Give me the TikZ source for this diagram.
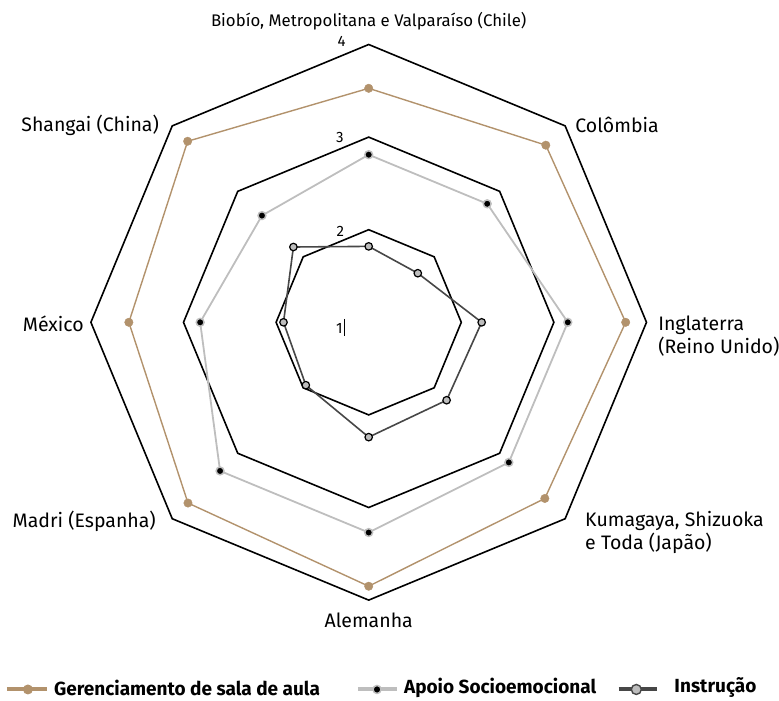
\documentclass[tikz,border=0pt]{standalone}
\usepackage{fontspec}
\setmainfont{Fira Sans}
\definecolor{gercor}{HTML}{B2926C}
\definecolor{apoiocor}{HTML}{BEBEBE}
\definecolor{instcor}{HTML}{474747}
\definecolor{instfill}{HTML}{BDBDBD}
\tikzset{
  nivel/.style={draw=black, line width=1.6pt},
  gerline/.style={draw=gercor, line width=1.4pt, mark=*, mark size=1.3pt,
    mark options={fill=gercor, draw=gercor, line width=0.4pt}},
  apoioline/.style={draw=apoiocor, line width=1.8pt, mark=*, mark size=1.2pt,
    mark options={fill=black, draw=apoiocor, line width=1.5pt}},
  instline/.style={draw=instcor, line width=1.6pt, mark=*, mark size=1.15pt,
    mark options={fill=instfill, draw=black, line width=1.2pt}},
  rotulo/.style={inner sep=0pt, font=\fontsize{19.5}{23}\selectfont},
  eixo/.style={inner sep=0pt, font=\fontsize{15}{17}\selectfont},
  leyenda/.style={inner sep=0pt, anchor=west, font=\fontsize{19}{21}\selectfont\bfseries},
}
\begin{document}
\begin{tikzpicture}[scale=3.255]
    % Marco de la figura
    \useasboundingbox (-3.9816,-4.0788) rectangle (4.4309,3.4806);

    % Octogonos de los niveles 4, 3 y 2
    \draw[nivel] (90:3) -- (45:3) -- (0:3) -- (-45:3) -- (-90:3) -- (-135:3) -- (180:3) -- (135:3) -- cycle;
    \draw[nivel] (90:2) -- (45:2) -- (0:2) -- (-45:2) -- (-90:2) -- (-135:2) -- (180:2) -- (135:2) -- cycle;
    \draw[nivel] (90:1) -- (45:1) -- (0:1) -- (-45:1) -- (-90:1) -- (-135:1) -- (180:1) -- (135:1) -- cycle;

    % Etiquetas de los niveles
    \node[eixo] (n4) at (-0.293,3.030) {4};
    \node[eixo] (n3) at (-0.31,1.998) {3};
    \node[eixo] (n2) at (-0.307,0.986) {2};
    \node[eixo] (n1) at (-0.317,-0.065) {1};
    \draw[line width=0.9pt] (-0.263,0.036) -- (-0.263,-0.148);

    % Serie: Gerenciamento de sala de aula
    \draw[gerline] plot coordinates {(90:2.527) (45:2.705) (0:2.775) (-45:2.69) (-90:2.85) (-135:2.76) (180:2.59) (135:2.765)} -- cycle;

    % Serie: Apoio Socioemocional
    \draw[apoioline] plot coordinates {(90:1.81) (45:1.81) (0:2.15) (-45:2.14) (-90:2.27) (-135:2.27) (180:1.82) (135:1.63)} -- cycle;

    % Serie: Instrucao
    \draw[instline] plot coordinates {(90:0.82) (45:0.75) (0:1.22) (-45:1.19) (-90:1.24) (-135:0.96) (180:0.92) (135:1.15)} -- cycle;

    % Nombres de las regiones
    \node[rotulo, font=\fontsize{16.8}{19}\selectfont] (chile) at (0,3.255) {Biobío, Metropolitana e Valparaíso (Chile)};
    \node[rotulo, anchor=west] (colombia) at (2.23,2.13) {Colômbia};
    \node[rotulo, anchor=west, align=left] (inglaterra) at (3.125,-0.153) {Inglaterra\\(Reino Unido)};
    \node[rotulo, anchor=west, align=left] (japao) at (2.336,-2.266) {Kumagaya, Shizuoka\\e Toda (Japão)};
    \node[rotulo] (alemanha) at (0,-3.215) {Alemanha};
    \node[rotulo, anchor=east] (madri) at (-2.297,-2.146) {Madri (Espanha)};
    \node[rotulo, anchor=east] (mexico) at (-3.075,-0.018) {México};
    \node[rotulo, anchor=east] (shangai) at (-2.264,2.13) {Shangai (China)};

    % Leyenda
    \draw[gercor, line width=4pt] (-3.906,-3.965) -- (-3.474,-3.965);
    \node[circle, fill=gercor, inner sep=0pt, minimum size=10pt] (lger) at (-3.68,-3.965) {};
    \node[leyenda] (tger) at (-3.40,-3.945) {Gerenciamento de sala de aula};

    \draw[apoiocor, line width=4pt] (-0.116,-3.965) -- (0.305,-3.965);
    \node[circle, fill=black, draw=apoiocor, line width=1.5pt, inner sep=0pt, minimum size=8pt] (lapoio) at (0.09,-3.965) {};
    \node[leyenda] (tapoio) at (0.38,-3.945) {Apoio Socioemocional};

    \draw[instcor, line width=4pt] (2.70,-3.965) -- (3.11,-3.965);
    \node[circle, fill=instfill, draw=instcor, line width=1.4pt, inner sep=0pt, minimum size=10pt] (linst) at (2.89,-3.965) {};
    \node[leyenda] (tinst) at (3.30,-3.945) {Instrução};

  \end{tikzpicture}
\end{document}
